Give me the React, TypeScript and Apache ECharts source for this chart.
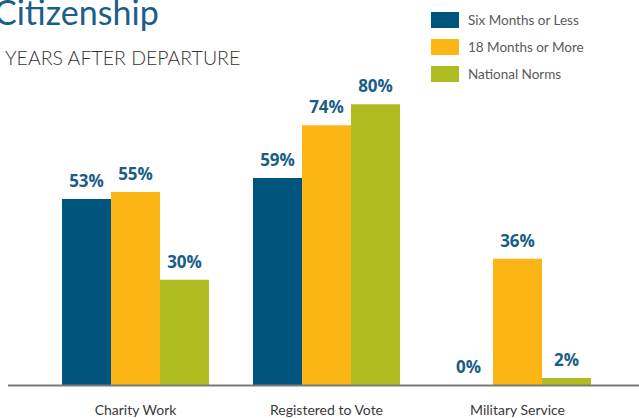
import React, { useEffect, useRef } from "react";
import * as echarts from "echarts";

const categories = ["Charity Work", "Registered to Vote", "Military Service"];
const seriesNames = ["Six Months or Less", "18 Months or More", "National Norms"];
const sixMonths = [53, 59, 0];
const eighteenMonths = [55, 74, 36];
const nationalNorms = [30, 80, 2];
const colors = ["#00557f", "#fbb615", "#afbd22"];

export default function App() {
  const ref = useRef<HTMLDivElement>(null);
  useEffect(() => {
    document.body.style.margin = "0";
    const chart = echarts.init(ref.current!, null, { renderer: "svg" });
    const data = [sixMonths, eighteenMonths, nationalNorms];
    const font = "Lato, 'Open Sans', sans-serif";
    chart.setOption({
      animation: false,
      color: colors,
      textStyle: { fontFamily: font },
      grid: { left: 40, right: 26, top: 34, bottom: 33 },
      legend: {
        orient: "vertical",
        left: 426,
        top: 7,
        itemWidth: 28,
        itemHeight: 16,
        itemGap: 11,
        icon: "rect",
        textStyle: { color: "#5a5a5a", fontSize: 13.5, fontFamily: font, padding: [0, 0, 0, 4] },
        data: seriesNames,
      },
      xAxis: {
        type: "category",
        data: categories,
        axisLine: { show: false },
        axisTick: { show: false },
        axisLabel: { color: "#3a3a3a", fontSize: 14, margin: 17, fontFamily: font },
      },
      yAxis: {
        type: "value",
        min: 0,
        max: 100,
        show: false,
        splitLine: { show: false },
      },
      series: seriesNames.map((name, i) => ({
        name,
        type: "bar",
        data: data[i],
        barWidth: 49,
        barGap: "0%",
        itemStyle: { color: colors[i] },
        label: {
          show: true,
          position: "top",
          distance: 10,
          formatter: "{c}%",
          color: "#1b5d87",
          fontSize: 17,
          fontWeight: "bold",
          fontFamily: "'Open Sans', sans-serif",
        },
      })),
      graphic: [
        {
          type: "line",
          shape: { x1: 8, y1: 385.5, x2: 639, y2: 385.5 },
          style: { stroke: "#7a7a7a", lineWidth: 2 },
          z: 10,
        },
        {
          type: "text",
          left: -6,
          top: -6,
          style: { text: "Citizenship", fill: "#1a5f8a", fontSize: 34, fontFamily: font },
        },
        {
          type: "text",
          left: 5,
          top: 47,
          style: { text: "YEARS AFTER DEPARTURE", fill: "#333", fontSize: 19.5, fontWeight: 300, fontFamily: font },
        },
      ],
    });
    return () => chart.dispose();
  }, []);
  return <div ref={ref} style={{ width: 639, height: 418, position: "absolute", left: 0, top: 0 }} />;
}
